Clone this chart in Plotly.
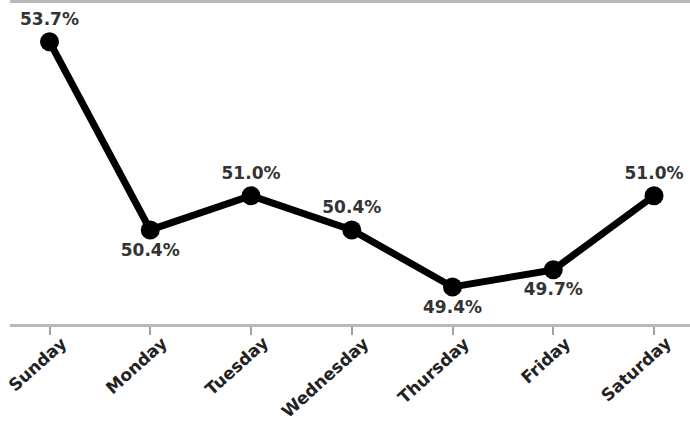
import plotly.graph_objects as go

days = ["Sunday", "Monday", "Tuesday", "Wednesday", "Thursday", "Friday", "Saturday"]
values = [53.7, 50.4, 51.0, 50.4, 49.4, 49.7, 51.0]
label_pos = ["top center", "bottom center", "top center", "top center",
             "bottom center", "bottom center", "top center"]

fig = go.Figure()
fig.add_trace(go.Scatter(
    x=days, y=values,
    mode="lines+markers+text",
    line=dict(color="black", width=7),
    marker=dict(color="black", size=19),
    text=[f"{v:.1f}%" for v in values],
    textposition=label_pos,
    textfont=dict(family="DejaVu Sans", size=17, color="#333333", weight="bold"),
    cliponaxis=False,
    hoverinfo="skip",
))

for d in days:
    fig.add_annotation(
        x=d, y=0, xref="x", yref="paper",
        text=d, showarrow=False, textangle=-42,
        xanchor="right", yanchor="top", xshift=24, yshift=-6,
        font=dict(family="DejaVu Sans", size=17, color="#222222", weight="bold"),
    )

fig.update_layout(
    width=690, height=423,
    margin=dict(l=10, r=0, t=3, b=99, autoexpand=False),
    paper_bgcolor="white", plot_bgcolor="white",
    showlegend=False,
    xaxis=dict(
        type="category",
        range=[-0.392, 6.357],
        showgrid=False, zeroline=False, automargin=False,
        showline=True, linecolor="#b8b8b8", linewidth=3, mirror=True,
        ticks="outside", ticklen=8, tickcolor="#a0a0a0", tickwidth=2,
        showticklabels=False,
    ),
    yaxis=dict(
        range=[48.75, 54.38], automargin=False,
        showgrid=False, zeroline=False, showticklabels=False,
        showline=False, ticks="",
    ),
)

fig.write_html("out.html")
